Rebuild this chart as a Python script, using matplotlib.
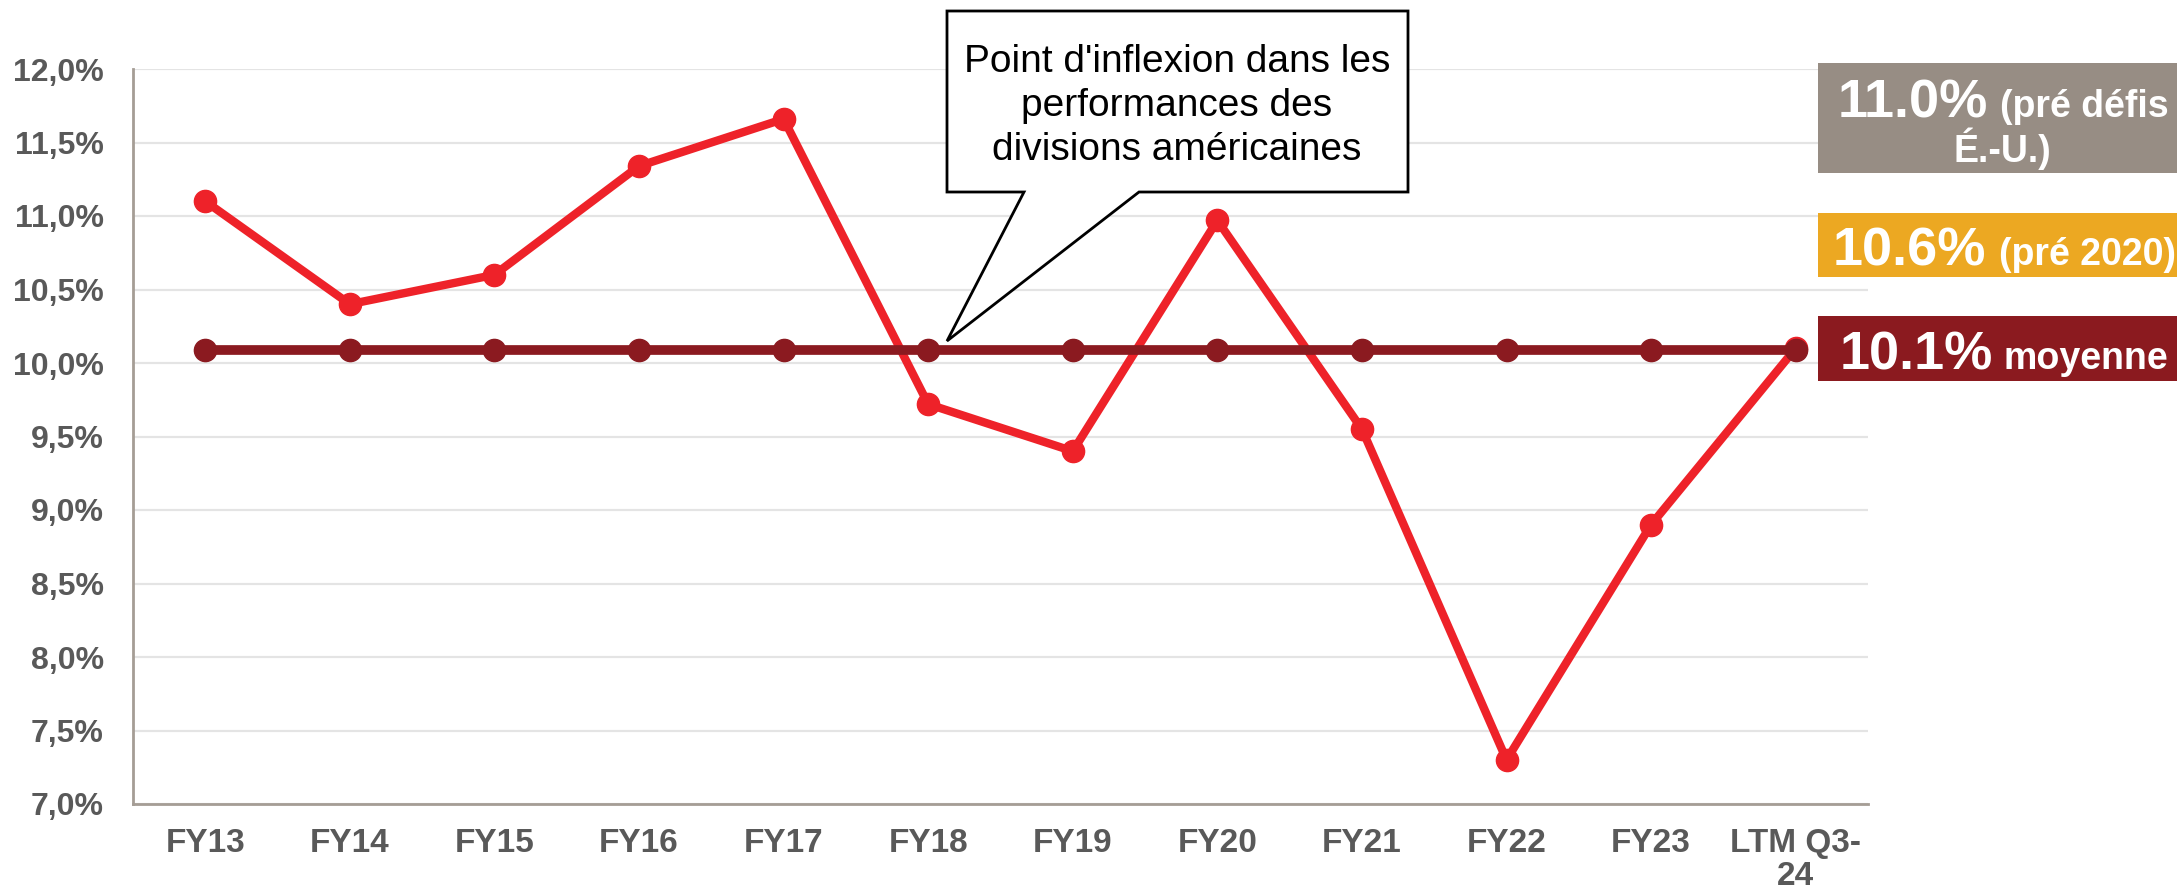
import matplotlib
matplotlib.use("Agg")
import matplotlib.pyplot as plt
from matplotlib.patches import Rectangle, Polygon
from matplotlib import font_manager
from matplotlib.ticker import FixedLocator, FuncFormatter

# ---------------- data ----------------
categories = ["FY13", "FY14", "FY15", "FY16", "FY17", "FY18", "FY19",
              "FY20", "FY21", "FY22", "FY23", "LTM Q3-\n24"]
margin_values = [11.10, 10.40, 10.60, 11.34, 11.66, 9.72, 9.40,
                 10.97, 9.55, 7.30, 8.90, 10.10]
average_values = [10.09] * len(categories)
y_ticks = [7.0, 7.5, 8.0, 8.5, 9.0, 9.5, 10.0, 10.5, 11.0, 11.5, 12.0]

callout_text = "Point d'inflexion dans les\nperformances des\ndivisions américaines"
box_labels = [
    ("11.0%", "(pré défis", "É.-U.)", "#978D84"),
    ("10.6%", "(pré 2020)", None, "#ECA822"),
    ("10.1%", "moyenne", None, "#8B1A1F"),
]

# ---------------- style ----------------
W, H = 2177, 891
RED = "#EE2229"
DARK = "#8B1A20"
TICK_COLOR = "#595959"
SPINE = "#A59D95"

names = {f.name for f in font_manager.fontManager.ttflist}
narrow = "Liberation Sans Narrow" in names
plt.rcParams["font.family"] = ["Liberation Sans", "DejaVu Sans"]

fig = plt.figure(figsize=(W / 100, H / 100), dpi=100)


def fx(x):
    return x / W


def fy(y):
    return 1 - y / H


ax = fig.add_axes([fx(133), fy(804), fx(1868) - fx(133), fy(69) - fy(804)])

x = list(range(len(categories)))
ax.plot(x, margin_values, color=RED, lw=6, marker="o", ms=16,
        solid_joinstyle="round", zorder=3)
ax.plot(x, average_values, color=DARK, lw=7, marker="o", ms=16, zorder=4)

ax.set_xlim(-0.5, len(categories) - 0.5)
ax.set_ylim(7.0, 12.0)
ax.yaxis.set_major_locator(FixedLocator(y_ticks))
ax.yaxis.set_major_formatter(FuncFormatter(lambda v, p: f"{v:.1f}%".replace(".", ",")))
ax.grid(axis="y", color="#E4E4E4", lw=1.6)
ax.set_axisbelow(True)

for s in ["top", "right"]:
    ax.spines[s].set_visible(False)
for s in ["left", "bottom"]:
    ax.spines[s].set_color(SPINE)
    ax.spines[s].set_linewidth(2.0)

ax.tick_params(axis="both", length=0)
ax.tick_params(axis="y", pad=21, labelsize=23, labelcolor=TICK_COLOR)
for lab in ax.get_yticklabels():
    lab.set_fontweight("bold")

ax.set_xticks(x)
if narrow:
    ax.set_xticklabels(categories, fontsize=28, fontweight="bold",
                       color=TICK_COLOR, family=["Liberation Sans Narrow", "DejaVu Sans"],
                       linespacing=1.05)
else:
    ax.set_xticklabels(categories, fontsize=24, fontweight="bold",
                       color=TICK_COLOR, linespacing=1.1)
ax.tick_params(axis="x", pad=17)

# ---------------- callout ----------------
pts = [(947, 11), (1408, 11), (1408, 192), (1139, 192), (947, 341),
       (1024, 192), (947, 192)]
poly = Polygon([(fx(a), fy(b)) for a, b in pts], closed=True,
               transform=fig.transFigure, facecolor="white",
               edgecolor="black", lw=2.0, zorder=10)
fig.patches.append(poly)
fig.text(fx(1177), fy(106), callout_text, ha="center", va="center",
         fontsize=28, color="black", linespacing=1.3, zorder=11)

# ---------------- right-side boxes ----------------
box_geom = [(63, 173), (213, 277), (316, 381)]
big_x = [1838, 1833, 1840]
small_x = [2000, 1999, 2003]
baselines = [117, 265, 369]
for (big, small, line2, color), (top, bot), bx, sx, bl in zip(
        box_labels, box_geom, big_x, small_x, baselines):
    r = Rectangle((fx(1818), fy(bot)), fx(W) - fx(1818), fy(top) - fy(bot),
                  transform=fig.transFigure, facecolor=color,
                  edgecolor="none", zorder=10)
    fig.patches.append(r)
    fig.text(fx(bx), fy(bl), big, ha="left", va="baseline", fontsize=39,
             fontweight="bold", color="white", zorder=11)
    fig.text(fx(sx), fy(bl), small, ha="left", va="baseline", fontsize=27,
             fontweight="bold", color="white", zorder=11)
    if line2:
        fig.text(fx(2002), fy(162), line2, ha="center", va="baseline",
                 fontsize=27, fontweight="bold", color="white", zorder=11)

fig.savefig("out.png", dpi=100)
